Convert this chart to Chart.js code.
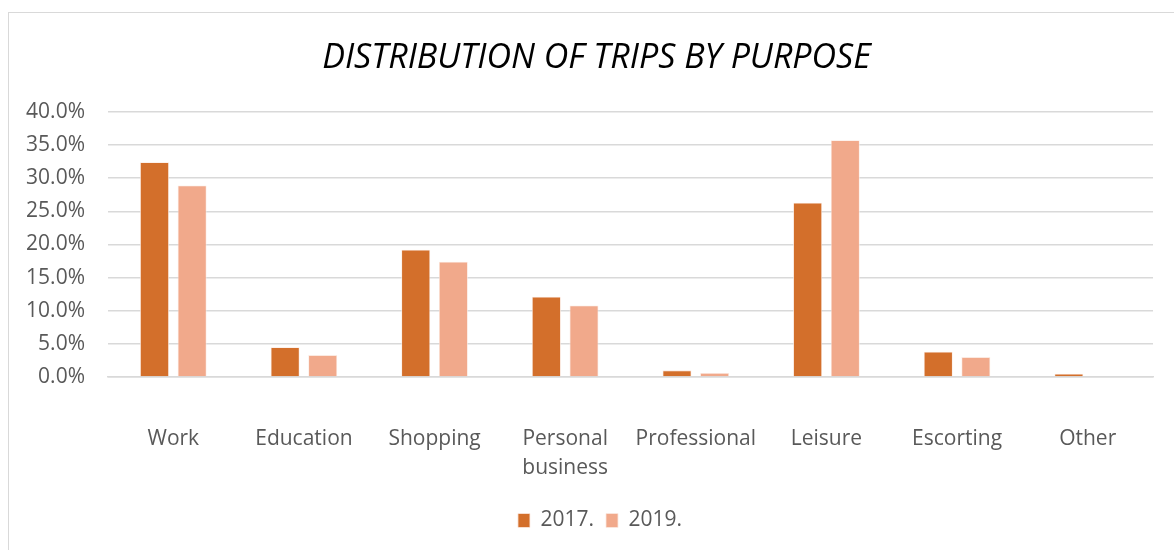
<!DOCTYPE html>
<html>
<head>
<meta charset="utf-8">
<script src="https://cdn.jsdelivr.net/npm/chart.js@4/dist/chart.umd.min.js"></script>
<style>
  html, body { margin: 0; padding: 0; background: #fff; width: 1174px; height: 550px; overflow: hidden; }
  #frame { position: absolute; left: 8px; top: 12px; width: 1200px; height: 600px; border: 1px solid #d9d9d9; box-sizing: border-box; }
  #wrap { position: absolute; left: 0; top: 0; width: 1174px; height: 550px; }
</style>
</head>
<body>
<div id="frame"></div>
<div id="wrap"><canvas id="c" width="1174" height="550"></canvas></div>
<script>
const categories = ['Work', 'Education', 'Shopping', ['Personal', 'business'], 'Professional', 'Leisure', 'Escorting', 'Other'];
const series2017 = [32.4, 4.5, 19.2, 12.1, 1.0, 26.3, 3.8, 0.5];
const series2019 = [28.9, 3.3, 17.4, 10.8, 0.6, 35.7, 3.0, 0.0];
const seriesNames = ['2017.', '2019.'];
const yTicks = [0, 5, 10, 15, 20, 25, 30, 35, 40];

const FONT = "'Open Sans', sans-serif";
const TXT = '#595959';

// center title and legend over the framed chart (as in the reference)
const shiftBoxes = {
  id: 'shiftBoxes',
  afterLayout(chart) {
    if (chart.legend) { chart.legend.left = 47; }
    if (chart.titleBlock) { chart.titleBlock.left = 40; }
  }
};

new Chart(document.getElementById('c'), {
  type: 'bar',
  data: {
    labels: categories,
    datasets: [
      { label: seriesNames[0], data: series2017, backgroundColor: '#D36F2B', borderColor: '#fbe9e0', borderWidth: 0.8, borderSkipped: 'bottom' },
      { label: seriesNames[1], data: series2019, backgroundColor: '#F1A98B', borderColor: '#fbe9e0', borderWidth: 0.8, borderSkipped: 'bottom' }
    ]
  },
  plugins: [shiftBoxes],
  options: {
    responsive: false,
    animation: false,
    devicePixelRatio: 1,
    categoryPercentage: 0.576,
    barPercentage: 0.77,
    layout: { padding: { left: 0, right: 21, top: 0, bottom: 9 } },
    plugins: {
      title: {
        display: true,
        text: 'DISTRIBUTION OF TRIPS BY PURPOSE',
        color: '#000',
        font: { family: FONT, size: 34, style: 'italic', weight: 'normal', lineHeight: 1.2 },
        padding: { top: 38, bottom: 33 }
      },
      legend: {
        position: 'bottom',
        labels: {
          color: TXT,
          font: { family: FONT, size: 21 },
          boxWidth: 12,
          boxHeight: 14,
          padding: 12
        }
      },
      tooltip: { enabled: false }
    },
    scales: {
      x: {
        grid: { display: false, drawTicks: false },
        border: { display: true, color: '#d9d9d9', width: 1.5 },
        ticks: { color: TXT, font: { family: FONT, size: 21, lineHeight: 1.4 }, padding: 47, maxRotation: 0, autoSkip: false },
        afterFit: (s) => { s.height = 121; }
      },
      y: {
        min: 0, max: 40,
        afterBuildTicks: (s) => { s.ticks = yTicks.map(v => ({ value: v })); },
        grid: { color: '#d9d9d9', lineWidth: 1.5, drawTicks: false },
        border: { display: false },
        ticks: { color: TXT, font: { family: FONT, size: 21 }, padding: 23, callback: (v) => v.toFixed(1) + '%' },
        afterFit: (s) => { s.width = 108; }
      }
    }
  }
});
</script>
</body>
</html>
